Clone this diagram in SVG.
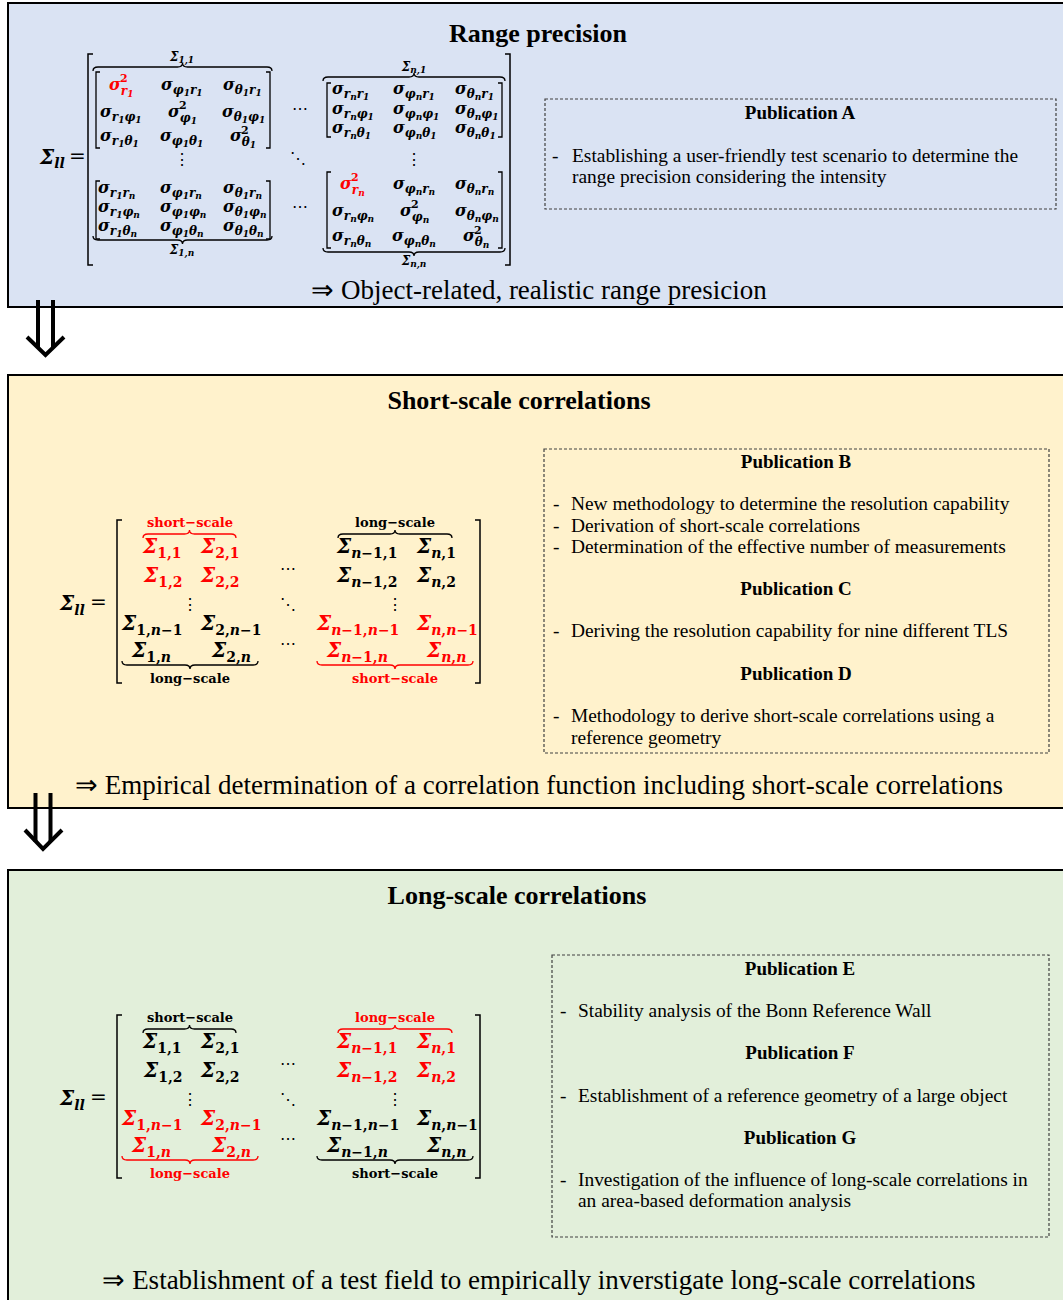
<svg xmlns="http://www.w3.org/2000/svg" width="1063" height="1300" viewBox="0 0 1063 1300">
<style>
.sec{stroke:#000;stroke-width:2}
.pub{fill:none;stroke:#404040;stroke-width:1.2;stroke-dasharray:3 2}
.t{font-family:"Liberation Serif","Times New Roman",serif;font-size:19.4px;fill:#000}
.tb{font-family:"Liberation Serif","Times New Roman",serif;font-size:19px;font-weight:bold;fill:#000}
.h{font-family:"Liberation Serif","Times New Roman",serif;font-size:26px;font-weight:bold;fill:#000}
.c{font-family:"Liberation Serif","Times New Roman",serif;font-size:27px;fill:#000}
.m{font-family:"DejaVu Serif",serif;font-weight:bold;font-style:italic;font-size:16px;fill:#000}
.s{font-size:12px}
.ss{font-size:9px}
.sup{font-size:11px;font-style:normal}
.M{font-family:"DejaVu Serif",serif;font-weight:bold;font-style:italic;font-size:20px;fill:#000}
.S{font-size:14px;font-style:normal}
.it{font-style:italic}
.lab{font-family:"DejaVu Serif",serif;font-weight:bold;font-size:13px;text-anchor:middle;fill:#000}
.sl{font-family:"DejaVu Serif",serif;font-weight:bold;font-style:italic;font-size:12px;text-anchor:middle;fill:#000}
.dots{font-family:"DejaVu Serif",serif;font-size:16px;text-anchor:middle;fill:#000}
.eq{font-family:"DejaVu Serif",serif;font-size:20px;fill:#000}
.r{fill:#ff0000}
.br{fill:none;stroke:#000;stroke-width:1.5}
.brr{fill:none;stroke:#ff0000;stroke-width:1.3}
.brk{fill:none;stroke:#000;stroke-width:1.3}
.arr{fill:none;stroke:#000;stroke-width:4}
</style>

<!-- Section 1 -->
<g id="range-precision">
<rect class="sec" x="8" y="3" width="1070" height="304" fill="#dae3f3"/>
<text class="h" x="538" y="42" text-anchor="middle">Range precision</text>
<text class="c" x="539" y="299" text-anchor="middle">⇒ Object-related, realistic range presicion</text>
</g>

<g id="matrix-range">
<text class="M" x="40" y="164">Σ<tspan class="S it" dy="4">ll</tspan></text>
<text class="eq" x="69" y="163">=</text>
<path class="br" d="M93 54 L88 54 L88 265 L93 265"/>
<path class="br" d="M505 54 L510 54 L510 265 L505 265"/>
<!-- sub brackets -->
<path class="brk" d="M100 72 L96 72 L96 148 L100 148 M266 72 L270 72 L270 148 L266 148"/>
<path class="brk" d="M100 181 L96 181 L96 239 L100 239 M266 181 L270 181 L270 239 L266 239"/>
<path class="brk" d="M331 83 L327 83 L327 137 L331 137 M498 83 L502 83 L502 137 L498 137"/>
<path class="brk" d="M331 172 L327 172 L327 248 L331 248 M498 172 L502 172 L502 248 L498 248"/>
<!-- braces -->
<path class="brk" d="M93 71 Q93 67 98 67 L177.5 67 Q182.5 67 182.5 63 Q182.5 67 187.5 67 L267 67 Q272 67 272 71"/>
<path class="brk" d="M93 236 Q93 240 98 240 L177.5 240 Q182.5 240 182.5 244 Q182.5 240 187.5 240 L267 240 Q272 240 272 236"/>
<path class="brk" d="M323 81 Q323 77 328 77 L409 77 Q414 77 414 73 Q414 77 419 77 L500 77 Q505 77 505 81"/>
<path class="brk" d="M323 248 Q323 252 328 252 L409 252 Q414 252 414 256 Q414 252 419 252 L500 252 Q505 252 505 248"/>
<text class="sl" x="182" y="61">Σ<tspan font-size="9" dy="2">1,1</tspan></text>
<text class="sl" x="182" y="254">Σ<tspan font-size="9" dy="2">1,n</tspan></text>
<text class="sl" x="414" y="71">Σ<tspan font-size="9" dy="2">n,1</tspan></text>
<text class="sl" x="414" y="265">Σ<tspan font-size="9" dy="2">n,n</tspan></text>
<text class="dots" x="182" y="165">⋮</text>
<text class="dots" x="414" y="165">⋮</text>
<text class="dots" x="300" y="114">⋯</text>
<text class="dots" x="298" y="164">⋱</text>
<text class="dots" x="300" y="212">⋯</text>
<g class="m">
<!-- Sigma 1,1 -->
<text x="109" y="90" class="r">σ<tspan class="s" dy="5">r</tspan><tspan class="ss" dy="2">1</tspan></text>
<text x="120" y="82" class="r sup">2</text>
<text x="161" y="90">σ<tspan class="s" dy="4">φ</tspan><tspan class="ss" dy="2">1</tspan><tspan class="s" dy="-2">r</tspan><tspan class="ss" dy="2">1</tspan></text>
<text x="223" y="90">σ<tspan class="s" dy="4">θ</tspan><tspan class="ss" dy="2">1</tspan><tspan class="s" dy="-2">r</tspan><tspan class="ss" dy="2">1</tspan></text>
<text x="100" y="117">σ<tspan class="s" dy="4">r</tspan><tspan class="ss" dy="2">1</tspan><tspan class="s" dy="-2">φ</tspan><tspan class="ss" dy="2">1</tspan></text>
<text x="168" y="117">σ<tspan class="s" dy="5">φ</tspan><tspan class="ss" dy="2">1</tspan></text>
<text x="179" y="109" class="sup">2</text>
<text x="222" y="117">σ<tspan class="s" dy="4">θ</tspan><tspan class="ss" dy="2">1</tspan><tspan class="s" dy="-2">φ</tspan><tspan class="ss" dy="2">1</tspan></text>
<text x="100" y="141">σ<tspan class="s" dy="4">r</tspan><tspan class="ss" dy="2">1</tspan><tspan class="s" dy="-2">θ</tspan><tspan class="ss" dy="2">1</tspan></text>
<text x="160" y="141">σ<tspan class="s" dy="4">φ</tspan><tspan class="ss" dy="2">1</tspan><tspan class="s" dy="-2">θ</tspan><tspan class="ss" dy="2">1</tspan></text>
<text x="230" y="141">σ<tspan class="s" dy="5">θ</tspan><tspan class="ss" dy="2">1</tspan></text>
<text x="241" y="134" class="sup">2</text>
<!-- Sigma 1,n -->
<text x="98" y="193">σ<tspan class="s" dy="4">r</tspan><tspan class="ss" dy="2">1</tspan><tspan class="s" dy="-2">r</tspan><tspan class="ss" dy="2">n</tspan></text>
<text x="160" y="193">σ<tspan class="s" dy="4">φ</tspan><tspan class="ss" dy="2">1</tspan><tspan class="s" dy="-2">r</tspan><tspan class="ss" dy="2">n</tspan></text>
<text x="223" y="193">σ<tspan class="s" dy="4">θ</tspan><tspan class="ss" dy="2">1</tspan><tspan class="s" dy="-2">r</tspan><tspan class="ss" dy="2">n</tspan></text>
<text x="98" y="212">σ<tspan class="s" dy="4">r</tspan><tspan class="ss" dy="2">1</tspan><tspan class="s" dy="-2">φ</tspan><tspan class="ss" dy="2">n</tspan></text>
<text x="160" y="212">σ<tspan class="s" dy="4">φ</tspan><tspan class="ss" dy="2">1</tspan><tspan class="s" dy="-2">φ</tspan><tspan class="ss" dy="2">n</tspan></text>
<text x="223" y="212">σ<tspan class="s" dy="4">θ</tspan><tspan class="ss" dy="2">1</tspan><tspan class="s" dy="-2">φ</tspan><tspan class="ss" dy="2">n</tspan></text>
<text x="98" y="231">σ<tspan class="s" dy="4">r</tspan><tspan class="ss" dy="2">1</tspan><tspan class="s" dy="-2">θ</tspan><tspan class="ss" dy="2">n</tspan></text>
<text x="160" y="231">σ<tspan class="s" dy="4">φ</tspan><tspan class="ss" dy="2">1</tspan><tspan class="s" dy="-2">θ</tspan><tspan class="ss" dy="2">n</tspan></text>
<text x="223" y="231">σ<tspan class="s" dy="4">θ</tspan><tspan class="ss" dy="2">1</tspan><tspan class="s" dy="-2">θ</tspan><tspan class="ss" dy="2">n</tspan></text>
<!-- Sigma n,1 -->
<text x="332" y="94">σ<tspan class="s" dy="4">r</tspan><tspan class="ss" dy="2">n</tspan><tspan class="s" dy="-2">r</tspan><tspan class="ss" dy="2">1</tspan></text>
<text x="393" y="94">σ<tspan class="s" dy="4">φ</tspan><tspan class="ss" dy="2">n</tspan><tspan class="s" dy="-2">r</tspan><tspan class="ss" dy="2">1</tspan></text>
<text x="455" y="94">σ<tspan class="s" dy="4">θ</tspan><tspan class="ss" dy="2">n</tspan><tspan class="s" dy="-2">r</tspan><tspan class="ss" dy="2">1</tspan></text>
<text x="332" y="114">σ<tspan class="s" dy="4">r</tspan><tspan class="ss" dy="2">n</tspan><tspan class="s" dy="-2">φ</tspan><tspan class="ss" dy="2">1</tspan></text>
<text x="393" y="114">σ<tspan class="s" dy="4">φ</tspan><tspan class="ss" dy="2">n</tspan><tspan class="s" dy="-2">φ</tspan><tspan class="ss" dy="2">1</tspan></text>
<text x="455" y="114">σ<tspan class="s" dy="4">θ</tspan><tspan class="ss" dy="2">n</tspan><tspan class="s" dy="-2">φ</tspan><tspan class="ss" dy="2">1</tspan></text>
<text x="332" y="133">σ<tspan class="s" dy="4">r</tspan><tspan class="ss" dy="2">n</tspan><tspan class="s" dy="-2">θ</tspan><tspan class="ss" dy="2">1</tspan></text>
<text x="393" y="133">σ<tspan class="s" dy="4">φ</tspan><tspan class="ss" dy="2">n</tspan><tspan class="s" dy="-2">θ</tspan><tspan class="ss" dy="2">1</tspan></text>
<text x="455" y="133">σ<tspan class="s" dy="4">θ</tspan><tspan class="ss" dy="2">n</tspan><tspan class="s" dy="-2">θ</tspan><tspan class="ss" dy="2">1</tspan></text>
<!-- Sigma n,n -->
<text x="340" y="189" class="r">σ<tspan class="s" dy="5">r</tspan><tspan class="ss" dy="2">n</tspan></text>
<text x="351" y="181" class="r sup">2</text>
<text x="393" y="189">σ<tspan class="s" dy="4">φ</tspan><tspan class="ss" dy="2">n</tspan><tspan class="s" dy="-2">r</tspan><tspan class="ss" dy="2">n</tspan></text>
<text x="455" y="189">σ<tspan class="s" dy="4">θ</tspan><tspan class="ss" dy="2">n</tspan><tspan class="s" dy="-2">r</tspan><tspan class="ss" dy="2">n</tspan></text>
<text x="332" y="216">σ<tspan class="s" dy="4">r</tspan><tspan class="ss" dy="2">n</tspan><tspan class="s" dy="-2">φ</tspan><tspan class="ss" dy="2">n</tspan></text>
<text x="400" y="216">σ<tspan class="s" dy="5">φ</tspan><tspan class="ss" dy="2">n</tspan></text>
<text x="411" y="208" class="sup">2</text>
<text x="455" y="216">σ<tspan class="s" dy="4">θ</tspan><tspan class="ss" dy="2">n</tspan><tspan class="s" dy="-2">φ</tspan><tspan class="ss" dy="2">n</tspan></text>
<text x="332" y="241">σ<tspan class="s" dy="4">r</tspan><tspan class="ss" dy="2">n</tspan><tspan class="s" dy="-2">θ</tspan><tspan class="ss" dy="2">n</tspan></text>
<text x="392" y="241">σ<tspan class="s" dy="4">φ</tspan><tspan class="ss" dy="2">n</tspan><tspan class="s" dy="-2">θ</tspan><tspan class="ss" dy="2">n</tspan></text>
<text x="463" y="241">σ<tspan class="s" dy="5">θ</tspan><tspan class="ss" dy="2">n</tspan></text>
<text x="474" y="234" class="sup">2</text>
</g>
</g>

<g id="publication-a">
<rect class="pub" x="545" y="99" width="511" height="110"/>
<text class="tb" x="800" y="119" text-anchor="middle">Publication A</text>
<text class="t" x="552" y="162">-</text>
<text class="t" x="572" y="162">Establishing a user-friendly test scenario to determine the</text>
<text class="t" x="572" y="183">range precision considering the intensity</text>
</g>

<!-- Section 2 -->
<g id="short-scale">
<rect class="sec" x="8" y="375" width="1070" height="433" fill="#fff2cc"/>
<text class="h" x="519" y="409" text-anchor="middle">Short-scale correlations</text>
<text class="c" x="539" y="794" text-anchor="middle">⇒ Empirical determination of a correlation function including short-scale correlations</text>
</g>

<g id="matrix-short">
<text class="M" x="60" y="610">Σ<tspan class="S it" dy="5">ll</tspan></text>
<text class="eq" x="90" y="609">=</text>
<path class="br" d="M122 520 L117 520 L117 683 L122 683 M475 520 L480 520 L480 683 L475 683"/>
<path class="brr" d="M143 538 Q143 534 148 534 L184.5 534 Q189.5 534 189.5 530 Q189.5 534 194.5 534 L231 534 Q236 534 236 538"/>
<path class="brk" d="M122 661 Q122 665 127 665 L185 665 Q190 665 190 669 Q190 665 195 665 L253 665 Q258 665 258 661"/>
<path class="brk" d="M338 538 Q338 534 343 534 L390 534 Q395 534 395 530 Q395 534 400 534 L447 534 Q452 534 452 538"/>
<path class="brr" d="M317 661 Q317 665 322 665 L390 665 Q395 665 395 669 Q395 665 400 665 L468 665 Q473 665 473 661"/>
<text class="lab r" x="190" y="527">short−scale</text>
<text class="lab" x="190" y="683">long−scale</text>
<text class="lab" x="395" y="527">long−scale</text>
<text class="lab r" x="395" y="683">short−scale</text>
<text class="dots" x="190" y="610">⋮</text>
<text class="dots" x="395" y="610">⋮</text>
<text class="dots" x="288" y="574">⋯</text>
<text class="dots" x="288" y="610">⋱</text>
<text class="dots" x="288" y="649">⋯</text>
<g class="M">
<text class="r" x="143" y="553">Σ<tspan class="S" dy="5">1,1</tspan></text>
<text class="r" x="201" y="553">Σ<tspan class="S" dy="5">2,1</tspan></text>
<text class="r" x="144" y="582">Σ<tspan class="S" dy="5">1,2</tspan></text>
<text class="r" x="201" y="582">Σ<tspan class="S" dy="5">2,2</tspan></text>
<text x="122" y="630">Σ<tspan class="S" dy="5">1,<tspan class="it">n</tspan>−1</tspan></text>
<text x="201" y="630">Σ<tspan class="S" dy="5">2,<tspan class="it">n</tspan>−1</tspan></text>
<text x="132" y="657">Σ<tspan class="S" dy="5">1,<tspan class="it">n</tspan></tspan></text>
<text x="212" y="657">Σ<tspan class="S" dy="5">2,<tspan class="it">n</tspan></tspan></text>
<text x="337" y="553">Σ<tspan class="S" dy="5"><tspan class="it">n</tspan>−1,1</tspan></text>
<text x="417" y="553">Σ<tspan class="S" dy="5"><tspan class="it">n</tspan>,1</tspan></text>
<text x="337" y="582">Σ<tspan class="S" dy="5"><tspan class="it">n</tspan>−1,2</tspan></text>
<text x="417" y="582">Σ<tspan class="S" dy="5"><tspan class="it">n</tspan>,2</tspan></text>
<text class="r" x="317" y="630">Σ<tspan class="S" dy="5"><tspan class="it">n</tspan>−1,<tspan class="it">n</tspan>−1</tspan></text>
<text class="r" x="417" y="630">Σ<tspan class="S" dy="5"><tspan class="it">n</tspan>,<tspan class="it">n</tspan>−1</tspan></text>
<text class="r" x="327" y="657">Σ<tspan class="S" dy="5"><tspan class="it">n</tspan>−1,<tspan class="it">n</tspan></tspan></text>
<text class="r" x="427" y="657">Σ<tspan class="S" dy="5"><tspan class="it">n</tspan>,<tspan class="it">n</tspan></tspan></text>
</g>
</g>

<g id="publications-bcd">
<rect class="pub" x="544" y="449" width="505" height="304"/>
<text class="tb" x="796" y="468" text-anchor="middle">Publication B</text>
<text class="t" x="553" y="510">-</text>
<text class="t" x="571" y="510">New methodology to determine the resolution capability</text>
<text class="t" x="553" y="532">-</text>
<text class="t" x="571" y="532">Derivation of short-scale correlations</text>
<text class="t" x="553" y="553">-</text>
<text class="t" x="571" y="553">Determination of the effective number of measurements</text>
<text class="tb" x="796" y="595" text-anchor="middle">Publication C</text>
<text class="t" x="553" y="637">-</text>
<text class="t" x="571" y="637">Deriving the resolution capability for nine different TLS</text>
<text class="tb" x="796" y="680" text-anchor="middle">Publication D</text>
<text class="t" x="553" y="722">-</text>
<text class="t" x="571" y="722">Methodology to derive short-scale correlations using a</text>
<text class="t" x="571" y="744">reference geometry</text>
</g>

<!-- Section 3 -->
<g id="long-scale">
<rect class="sec" x="8" y="870" width="1070" height="440" fill="#e2efda"/>
<text class="h" x="517" y="904" text-anchor="middle">Long-scale correlations</text>
<text class="c" x="539" y="1289" text-anchor="middle">⇒ Establishment of a test field to empirically inverstigate long-scale correlations</text>
</g>

<g id="matrix-long">
<text class="M" x="60" y="1105">Σ<tspan class="S it" dy="5">ll</tspan></text>
<text class="eq" x="90" y="1104">=</text>
<path class="br" d="M122 1015 L117 1015 L117 1178 L122 1178 M475 1015 L480 1015 L480 1178 L475 1178"/>
<path class="brk" d="M143 1033 Q143 1029 148 1029 L184.5 1029 Q189.5 1029 189.5 1025 Q189.5 1029 194.5 1029 L231 1029 Q236 1029 236 1033"/>
<path class="brr" d="M122 1156 Q122 1160 127 1160 L185 1160 Q190 1160 190 1164 Q190 1160 195 1160 L253 1160 Q258 1160 258 1156"/>
<path class="brr" d="M338 1033 Q338 1029 343 1029 L390 1029 Q395 1029 395 1025 Q395 1029 400 1029 L447 1029 Q452 1029 452 1033"/>
<path class="brk" d="M317 1156 Q317 1160 322 1160 L390 1160 Q395 1160 395 1164 Q395 1160 400 1160 L468 1160 Q473 1160 473 1156"/>
<text class="lab" x="190" y="1022">short−scale</text>
<text class="lab r" x="190" y="1178">long−scale</text>
<text class="lab r" x="395" y="1022">long−scale</text>
<text class="lab" x="395" y="1178">short−scale</text>
<text class="dots" x="190" y="1105">⋮</text>
<text class="dots" x="395" y="1105">⋮</text>
<text class="dots" x="288" y="1069">⋯</text>
<text class="dots" x="288" y="1105">⋱</text>
<text class="dots" x="288" y="1144">⋯</text>
<g class="M">
<text x="143" y="1048">Σ<tspan class="S" dy="5">1,1</tspan></text>
<text x="201" y="1048">Σ<tspan class="S" dy="5">2,1</tspan></text>
<text x="144" y="1077">Σ<tspan class="S" dy="5">1,2</tspan></text>
<text x="201" y="1077">Σ<tspan class="S" dy="5">2,2</tspan></text>
<text class="r" x="122" y="1125">Σ<tspan class="S" dy="5">1,<tspan class="it">n</tspan>−1</tspan></text>
<text class="r" x="201" y="1125">Σ<tspan class="S" dy="5">2,<tspan class="it">n</tspan>−1</tspan></text>
<text class="r" x="132" y="1152">Σ<tspan class="S" dy="5">1,<tspan class="it">n</tspan></tspan></text>
<text class="r" x="212" y="1152">Σ<tspan class="S" dy="5">2,<tspan class="it">n</tspan></tspan></text>
<text class="r" x="337" y="1048">Σ<tspan class="S" dy="5"><tspan class="it">n</tspan>−1,1</tspan></text>
<text class="r" x="417" y="1048">Σ<tspan class="S" dy="5"><tspan class="it">n</tspan>,1</tspan></text>
<text class="r" x="337" y="1077">Σ<tspan class="S" dy="5"><tspan class="it">n</tspan>−1,2</tspan></text>
<text class="r" x="417" y="1077">Σ<tspan class="S" dy="5"><tspan class="it">n</tspan>,2</tspan></text>
<text x="317" y="1125">Σ<tspan class="S" dy="5"><tspan class="it">n</tspan>−1,<tspan class="it">n</tspan>−1</tspan></text>
<text x="417" y="1125">Σ<tspan class="S" dy="5"><tspan class="it">n</tspan>,<tspan class="it">n</tspan>−1</tspan></text>
<text x="327" y="1152">Σ<tspan class="S" dy="5"><tspan class="it">n</tspan>−1,<tspan class="it">n</tspan></tspan></text>
<text x="427" y="1152">Σ<tspan class="S" dy="5"><tspan class="it">n</tspan>,<tspan class="it">n</tspan></tspan></text>
</g>
</g>

<g id="publications-efg">
<rect class="pub" x="552" y="955" width="497" height="282"/>
<text class="tb" x="800" y="975" text-anchor="middle">Publication E</text>
<text class="t" x="560" y="1017">-</text>
<text class="t" x="578" y="1017">Stability analysis of the Bonn Reference Wall</text>
<text class="tb" x="800" y="1059" text-anchor="middle">Publication F</text>
<text class="t" x="560" y="1102">-</text>
<text class="t" x="578" y="1102">Establishment of a reference geometry of a large object</text>
<text class="tb" x="800" y="1144" text-anchor="middle">Publication G</text>
<text class="t" x="560" y="1186">-</text>
<text class="t" x="578" y="1186">Investigation of the influence of long-scale correlations in</text>
<text class="t" x="578" y="1207">an area-based deformation analysis</text>
</g>

<g id="connectors">
<g id="arrow-1">
<path class="arr" d="M38 300 L38 347 M53 300 L53 347"/>
<path class="arr" d="M27 337 L45.5 355 L64 337"/>
</g>
<g id="arrow-2">
<path class="arr" d="M35.5 793 L35.5 842 M50.5 793 L50.5 842"/>
<path class="arr" d="M25 830 L43 849 L62 830"/>
</g>
</g>
</svg>
